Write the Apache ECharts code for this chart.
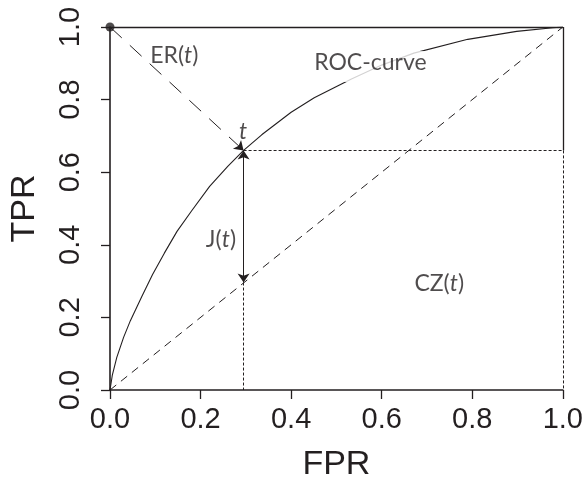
<!DOCTYPE html>
<html>
<head>
<meta charset="utf-8">
<script src="https://cdn.jsdelivr.net/npm/echarts@6/dist/echarts.min.js"></script>
<style>
  html, body { margin: 0; padding: 0; background: #fff; }
  #chart { width: 586px; height: 487px; }
</style>
</head>
<body>
<div id="chart"></div>
<script>
// ROC curve: false positive rate vs. true positive rate
const fpr = [0, 0.005, 0.015, 0.03, 0.045, 0.07, 0.094, 0.12, 0.148, 0.18, 0.22, 0.26, 0.295, 0.335, 0.40, 0.451, 0.532, 0.60, 0.671, 0.79, 0.898, 0.978, 1];
const tpr = [0, 0.04, 0.09, 0.145, 0.191, 0.257, 0.318, 0.377, 0.437, 0.493, 0.561, 0.616, 0.66, 0.703, 0.765, 0.805, 0.856, 0.895, 0.928, 0.966, 0.988, 0.998, 1];

// chance line
const chanceLine = [[0, 0], [1, 1]];

// optimal cut-off t on the curve, and the chance-line value below it
const cutoff = [0.295, 0.66];
const chanceAtCutoff = [0.295, 0.296];
// ideal classifier corner
const ideal = [0, 1];

// axis ticks
const xTicks = [0, 0.2, 0.4, 0.6, 0.8, 1.0];
const yTicks = [0, 0.2, 0.4, 0.6, 0.8, 1.0];

// annotation texts and their anchor points (data units)
const notes = [
  { text: 'ER({i|t})', at: [0.142, 0.922] },
  { text: '{i|t}', at: [0.294, 0.713] },
  { text: 'J({i|t})', at: [0.245, 0.415] },
  { text: 'ROC-curve', at: [0.575, 0.891], mask: true },
  { text: 'CZ({i|t})', at: [0.727, 0.294] }
];

const ink = '#231f20';
const noteFont = 'Lato, "Open Sans", sans-serif';
const tickFont = '"Liberation Sans", Arial, sans-serif';

const chart = echarts.init(document.getElementById('chart'), null, { renderer: 'canvas' });

const axisCommon = {
  type: 'value',
  min: 0,
  max: 1,
  interval: 0.2,
  axisLine: { show: true, lineStyle: { color: ink, width: 1.6 } },
  axisTick: { show: true, length: 9, lineStyle: { color: ink, width: 1.3 } },
  splitLine: { show: false },
  nameLocation: 'middle',
  nameTextStyle: { fontFamily: tickFont, fontSize: 34, color: ink }
};

const solid = { color: ink, width: 1.3, type: 'solid' };
const dotted = { color: ink, width: 1, type: [3, 2] };

// one mark-line segment; style sits on the first point, end symbols on each point
function seg(a, b, lineStyle, startSymbol, endSymbol) {
  return [
    { coord: a, lineStyle: lineStyle, symbol: startSymbol || 'none' },
    { coord: b, symbol: endSymbol || 'none' }
  ];
}

const option = {
  animation: false,
  backgroundColor: '#fff',
  grid: { left: 105, right: 19, top: 27, bottom: 82, containLabel: false },
  xAxis: Object.assign({}, axisCommon, {
    name: 'FPR',
    nameGap: 58,
    axisLabel: {
      fontFamily: tickFont, fontSize: 29, color: ink, margin: 15,
      formatter: v => xTicks.indexOf(+v.toFixed(1)) >= 0 ? v.toFixed(1) : ''
    }
  }),
  yAxis: Object.assign({}, axisCommon, {
    name: 'TPR',
    nameGap: 68,
    axisLabel: {
      fontFamily: tickFont, fontSize: 29, color: ink, margin: 25, rotate: 90,
      formatter: v => yTicks.indexOf(+v.toFixed(1)) >= 0 ? v.toFixed(1) : ''
    }
  }),
  series: [
    {
      name: 'ROC-curve',
      type: 'line',
      data: fpr.map((x, i) => [x, tpr[i]]),
      smooth: false,
      showSymbol: false,
      lineStyle: { color: ink, width: 1.1 },
      z: 3
    },
    {
      name: 'chance',
      type: 'line',
      data: chanceLine,
      showSymbol: false,
      lineStyle: { color: ink, width: 1, type: [8, 6] },
      z: 2
    },
    {
      // frame, cost-zone rectangle, ER and J arrows
      name: 'guides',
      type: 'line',
      data: [cutoff],
      showSymbol: false,
      lineStyle: { opacity: 0 },
      markLine: {
        silent: true,
        animation: false,
        label: { show: false },
        symbol: ['none', 'none'],
        symbolSize: 9,
        itemStyle: { color: ink },
        lineStyle: solid,
        data: [
          // top edge and upper part of right edge
          seg([0, 1], [1, 1], solid),
          seg([1, 1], [1, cutoff[1]], solid),
          // dotted cost zone
          seg(cutoff, [1, cutoff[1]], dotted),
          seg([1, cutoff[1]], [1, 0], dotted),
          seg(chanceAtCutoff, [cutoff[0], 0], dotted),
          // ER(t): distance from ideal corner to t
          seg(ideal, cutoff, { color: ink, width: 1, type: [16, 11] }, 'none', 'arrow'),
          // J(t): Youden index as a double arrow
          seg(chanceAtCutoff, cutoff, { color: ink, width: 1, type: 'solid' }, 'arrow', 'arrow')
        ]
      },
      z: 4
    },
    {
      name: 'ideal',
      type: 'scatter',
      data: [ideal],
      symbol: 'circle',
      symbolSize: 9,
      itemStyle: { color: ink },
      z: 6
    },
    {
      name: 'notes',
      type: 'scatter',
      data: notes.map(n => ({
        value: n.at,
        // white box that breaks the curve behind its label
        label: n.mask ? { backgroundColor: '#fff', padding: [0, 0, 8, 0] } : {}
      })),
      symbolSize: 0,
      silent: true,
      label: {
        show: true,
        position: 'inside',
        formatter: p => notes[p.dataIndex].text,
        fontFamily: noteFont,
        fontSize: 23,
        color: ink,
        rich: {
          i: { fontFamily: noteFont, fontSize: 23, fontStyle: 'italic', color: ink }
        }
      },
      z: 10
    }
  ]
};

chart.setOption(option);
</script>
</body>
</html>
